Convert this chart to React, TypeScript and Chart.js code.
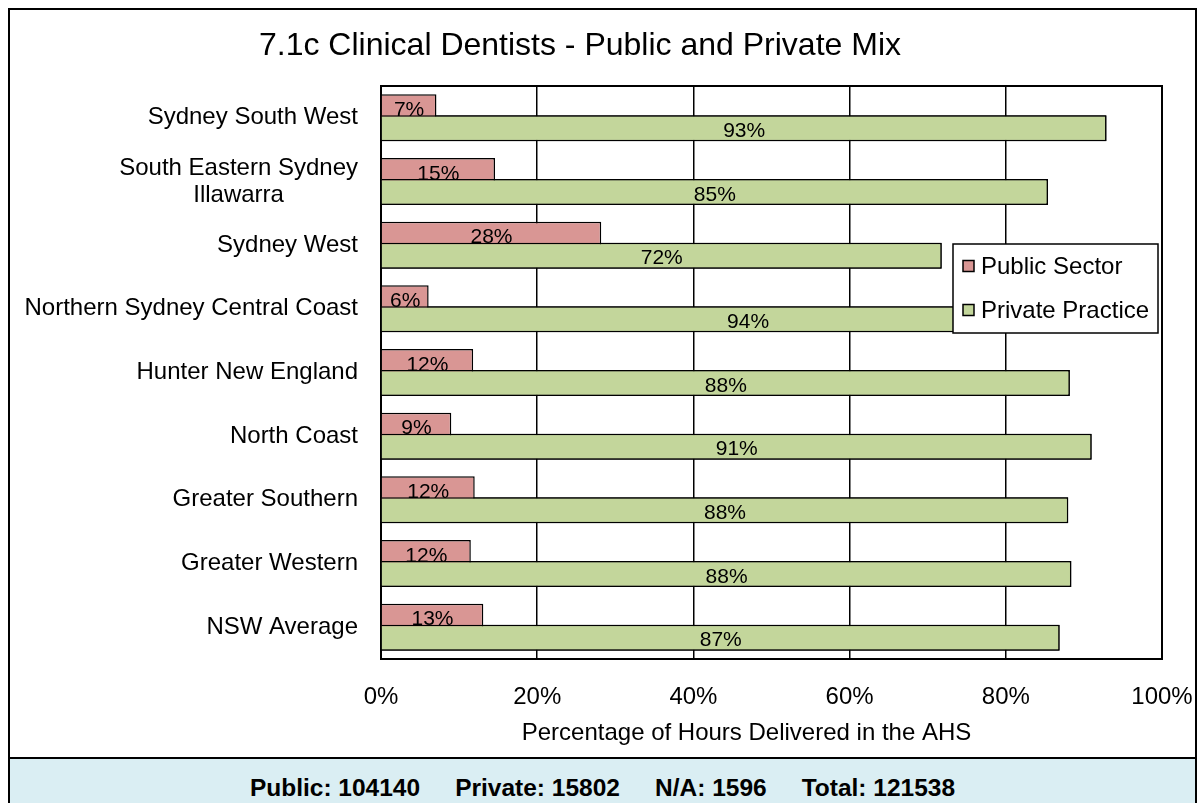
import React, { useEffect, useRef } from "react";
import { Chart, registerables } from "chart.js";

Chart.register(...registerables);

const FONT = '"Liberation Sans", Arial, Helvetica, sans-serif';

const chartTitle = "7.1c Clinical Dentists - Public and Private Mix";
const xAxisTitle = "Percentage of Hours Delivered in the AHS";
const categories: (string | string[])[] = [
  "Sydney South West",
  ["South Eastern Sydney", "Illawarra"],
  "Sydney West",
  "Northern Sydney Central Coast",
  "Hunter New England",
  "North Coast",
  "Greater Southern",
  "Greater Western",
  "NSW Average",
];
const publicSector = [7.1, 14.6, 28.2, 6.1, 11.8, 9.0, 12.0, 11.5, 13.1];
const privatePractice = [92.9, 85.4, 71.8, 93.9, 88.2, 91.0, 88.0, 88.4, 86.9];
const seriesNames = ["Public Sector", "Private Practice"];
const seriesColors = ["#D99694", "#C3D69B"];
const xMin = 0;
const xMax = 100;
const xStep = 20;
const footerItems = [
  ["Public:", "104140"],
  ["Private:", "15802"],
  ["N/A:", "1596"],
  ["Total:", "121538"],
];

const overlayPlugin = {
  id: "overlay",
  beforeDatasetsDraw(chart: any) {
    const { ctx, chartArea: a } = chart;
    ctx.save();
    ctx.strokeStyle = "#000";
    ctx.lineWidth = 2;
    ctx.strokeRect(a.left, a.top, a.right - a.left, a.bottom - a.top);
    ctx.restore();
  },
  afterDatasetsDraw(chart: any) {
    const ctx = chart.ctx;
    const drawLabels = (di: number) => {
      const meta = chart.getDatasetMeta(di);
      ctx.save();
      ctx.font = `21px ${FONT}`;
      ctx.fillStyle = "#000";
      ctx.textAlign = "center";
      ctx.textBaseline = "middle";
      meta.data.forEach((el: any, i: number) => {
        const v = chart.data.datasets[di].data[i] as number;
        const p = el.getProps(["x", "y", "base"], true);
        ctx.fillText(Math.round(v) + "%", (p.x + p.base) / 2, p.y + 3);
      });
      ctx.restore();
    };
    // public labels, then private bars on top (they overlap), then private labels
    drawLabels(0);
    const meta1 = chart.getDatasetMeta(1);
    meta1.data.forEach((el: any) => el.draw(ctx));
    drawLabels(1);
  },
  afterDraw(chart: any) {
    const { ctx, chartArea: a } = chart;
    ctx.save();
    // title
    ctx.font = `32px ${FONT}`;
    ctx.fillStyle = "#000";
    ctx.textAlign = "center";
    ctx.textBaseline = "middle";
    ctx.fillText(chartTitle, chart.width * 0.481, 36);

    // x axis title
    ctx.font = `24px ${FONT}`;
    ctx.fillText(xAxisTitle, a.left + (a.right - a.left) * 0.468, a.bottom + 74);

    // category labels
    const ys = chart.scales.y;
    const lh = 27;
    (chart.data.labels as (string | string[])[]).forEach((lab, i) => {
      const lines = Array.isArray(lab) ? lab : [lab];
      const yc = ys.getPixelForValue(i);
      const w = Math.max(...lines.map((l) => ctx.measureText(l).width));
      const xr = a.left - 23;
      lines.forEach((l, k) => {
        ctx.fillText(l, xr - w / 2, yc + (k - (lines.length - 1) / 2) * lh);
      });
    });

    // legend
    const bx = a.right - 209;
    const by = a.top + 158;
    const bw = 205;
    const bh = 89;
    ctx.fillStyle = "#fff";
    ctx.fillRect(bx, by, bw, bh);
    ctx.strokeStyle = "#000";
    ctx.lineWidth = 1.5;
    ctx.strokeRect(bx, by, bw, bh);
    ctx.font = `24px ${FONT}`;
    ctx.textAlign = "left";
    chart.data.datasets.forEach((ds: any, i: number) => {
      const cy = by + 22 + i * 44;
      ctx.fillStyle = ds.backgroundColor;
      ctx.fillRect(bx + 10, cy - 5.5, 11, 11);
      ctx.strokeStyle = "#000";
      ctx.lineWidth = 1.5;
      ctx.strokeRect(bx + 10, cy - 5.5, 11, 11);
      ctx.fillStyle = "#000";
      ctx.fillText(ds.label, bx + 28, cy + 1);
    });
    ctx.restore();
  },
};

function ChartCanvas() {
  const ref = useRef<HTMLCanvasElement | null>(null);
  useEffect(() => {
    if (!ref.current) return;
    const chart = new Chart(ref.current, {
      type: "bar",
      data: {
        labels: categories as any,
        datasets: [
          {
            label: seriesNames[0],
            data: publicSector,
            backgroundColor: seriesColors[0],
            borderColor: "#000",
            borderWidth: 1.5,
            categoryPercentage: 0.66,
            barPercentage: 1.24,
          },
          {
            label: seriesNames[1],
            data: privatePractice,
            backgroundColor: seriesColors[1],
            borderColor: "#000",
            borderWidth: 1.5,
            categoryPercentage: 0.66,
            barPercentage: 1.24,
          },
        ],
      },
      options: {
        indexAxis: "y",
        animation: false,
        responsive: true,
        maintainAspectRatio: false,
        layout: { padding: { top: 76, right: 33, left: 0, bottom: 0 } },
        plugins: {
          legend: { display: false },
          tooltip: { enabled: false },
          title: { display: false },
        },
        scales: {
          x: {
            type: "linear",
            min: xMin,
            max: xMax,
            ticks: {
              stepSize: xStep,
              callback: (v: any) => v + "%",
              font: { family: FONT, size: 24 },
              color: "#000",
              padding: 0,
              maxRotation: 0,
            },
            grid: {
              color: "#000",
              lineWidth: 1.5,
              drawTicks: true,
              tickLength: 24,
              tickColor: "rgba(0,0,0,0)",
            },
            border: { display: false },
            title: { display: false },
            afterFit: (s: any) => {
              s.height = 98;
            },
          },
          y: {
            type: "category",
            grid: { display: false },
            border: { display: false },
            ticks: { display: false },
            afterFit: (s: any) => {
              s.width = 371;
            },
          },
        },
      },
      plugins: [overlayPlugin],
    });
    return () => chart.destroy();
  }, []);
  return <canvas ref={ref} />;
}

export default function App() {
  return (
    <div
      style={{
        position: "absolute",
        top: 8,
        left: 8,
        width: 1185,
        borderTop: "2px solid #000",
        borderLeft: "2px solid #000",
        borderRight: "2px solid #000",
        fontFamily: FONT,
        background: "#fff",
        overflow: "hidden",
      }}
    >
      <div style={{ position: "relative", width: 1185, height: 747 }}>
        <ChartCanvas />
      </div>
      <div
        style={{
          borderTop: "2px solid #000",
          background: "#DAEEF3",
          height: 46,
          paddingTop: 15,
          boxSizing: "border-box",
          display: "flex",
          justifyContent: "center",
          gap: 35,
          fontWeight: "bold",
          fontSize: 24.5,
          lineHeight: "27px",
          color: "#000",
          overflow: "hidden",
        }}
      >
        {footerItems.map(([k, v]) => (
          <span key={k}>
            {k} {v}
          </span>
        ))}
      </div>
    </div>
  );
}
